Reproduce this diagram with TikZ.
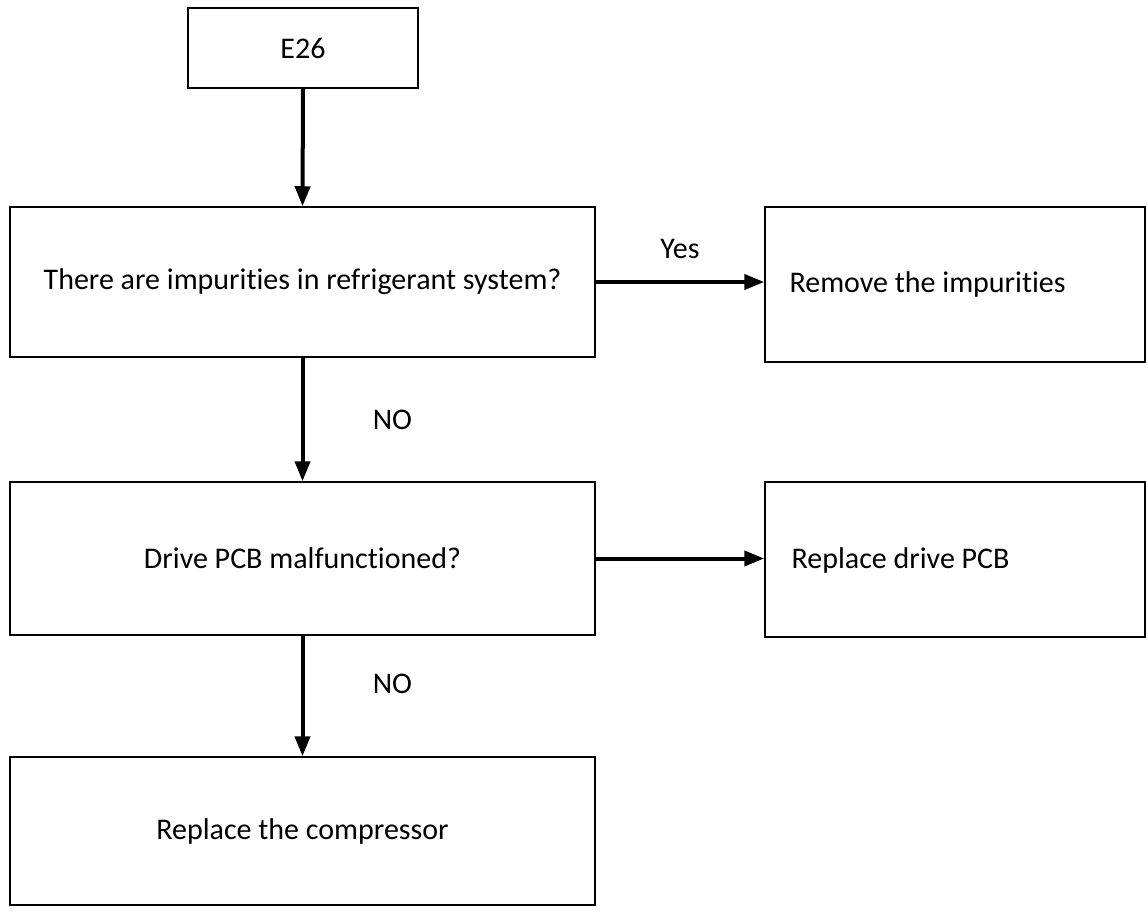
\documentclass[tikz,border=0pt]{standalone}
\usepackage{fontspec}
\setmainfont[RawFeature={-liga;-dlig;-clig}]{Carlito}
\usetikzlibrary{arrows.meta}
\begin{document}
\begin{tikzpicture}[x=1pt,y=-1pt,
  box/.style={draw,line width=1.5pt,inner sep=0pt},
  arr/.style={line width=4pt,-{Triangle[length=20pt,width=15pt]}},
  lbl/.style={font=\fontsize{30}{34}\selectfont}]
\useasboundingbox (0,0) rectangle (1148,912);
\node[box,minimum width=230pt,minimum height=80pt,lbl] (e) at (303,48) {E26};
\node[box,minimum width=585pt,minimum height=150pt,lbl] (q1) at (302.5,282) {There are impurities in refrigerant system?};
\node[box,minimum width=380pt,minimum height=155pt] (r1) at (955,284.5) {};
\node[lbl,anchor=west] at (786,285) {Remove the impurities};
\node[box,minimum width=585pt,minimum height=153pt,lbl] (q2) at (302.5,558.5) {Drive PCB malfunctioned?};
\node[box,minimum width=380pt,minimum height=155pt] (r2) at (955,559.5) {};
\node[lbl,anchor=west] at (788,560) {Replace drive PCB};
\node[box,minimum width=585pt,minimum height=148pt,lbl] (q3) at (302.5,831) {Replace the compressor};
\draw[arr] (e.south) -- (q1.north);
\draw[arr] (q1.south) -- node[lbl,right=65pt]{NO} (q2.north);
\draw[arr] (q2.south) -- node[lbl,right=65pt,pos=0.4]{NO} (q3.north);
\draw[arr] (q1.east) -- node[lbl,above=18pt]{Yes} (q1.east -| r1.west);
\draw[arr] (q2.east) -- (q2.east -| r2.west);
\end{tikzpicture}
\end{document}
